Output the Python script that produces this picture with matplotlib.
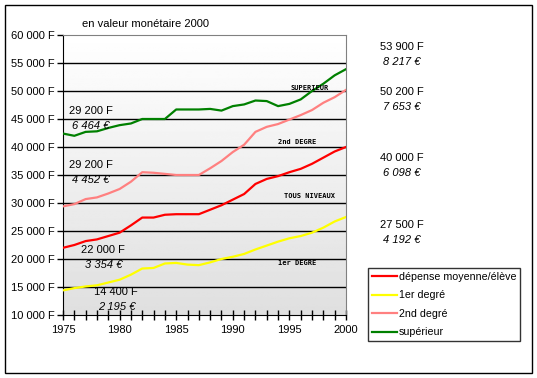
import numpy as np
import matplotlib
matplotlib.use('Agg')
import matplotlib.pyplot as plt
from matplotlib.patches import Rectangle

plt.rcParams['font.family'] = ['Liberation Sans', 'DejaVu Sans']

years = list(range(1975, 2001))
moyenne = [22000, 22500, 23200, 23500, 24100, 24700, 26000, 27400, 27400, 27900,
           28000, 28000, 28000, 28800, 29600, 30600, 31600, 33400, 34300, 34800,
           35500, 36100, 37000, 38100, 39200, 40000]
premier = [14400, 14800, 15100, 15300, 15800, 16300, 17200, 18300, 18400, 19200,
           19300, 19000, 18900, 19400, 20000, 20400, 20900, 21700, 22400, 23100,
           23700, 24100, 24700, 25600, 26700, 27500]
second = [29400, 29800, 30700, 31000, 31700, 32500, 33800, 35500, 35400, 35200,
          35000, 35000, 35000, 36200, 37500, 39100, 40400, 42700, 43600, 44100,
          44900, 45700, 46600, 47900, 48900, 50200]
superieur = [42400, 42000, 42700, 42800, 43400, 43900, 44200, 45000, 45000, 45000,
             46700, 46700, 46700, 46800, 46500, 47300, 47600, 48300, 48200, 47300,
             47700, 48500, 50000, 51300, 52800, 53900]

yticks = list(range(10000, 60001, 5000))
ytick_labels = ['%d 000 F' % (v // 1000) for v in yticks]
xticks = [1975, 1980, 1985, 1990, 1995, 2000]

# value labels in francs / euros
left_f = [(1975.5, 46500, '29 200 F'), (1975.5, 36700, '29 200 F'),
          (1976.6, 21600, '22 000 F'), (1977.7, 14100, '14 400 F')]
left_e = [(1975.8, 43800, '6 464 €'), (1975.8, 34100, '4 452 €'),
          (1976.9, 19000, '3 354 €'), (1978.1, 11400, '2 195 €')]
right_labels = [(57800, '53 900 F', '8 217 €'),
                (49800, '50 200 F', '7 653 €'),
                (38100, '40 000 F', '6 098 €'),
                (26100, '27 500 F', '4 192 €')]
level_labels = [(1996.8, 50500, 'SUPERIEUR'),
                (1995.7, 40900, '2nd DEGRE'),
                (1996.8, 31300, 'TOUS NIVEAUX'),
                (1995.7, 19350, '1er DEGRE')]

fig = plt.figure(figsize=(5.37, 3.78), dpi=100)
fig.patches.append(Rectangle((5 / 537, 5 / 378), 527 / 537, 368 / 378, transform=fig.transFigure,
                             fill=False, edgecolor='black', linewidth=1))
ax = fig.add_axes([63 / 537, 1 - 315 / 378, 283 / 537, 280 / 378])

# grey gradient background
grad = np.linspace(0.875, 1.0, 256).reshape(-1, 1)
ax.imshow(grad, extent=[1975, 2000, 10000, 60000], aspect='auto', cmap='gray',
          vmin=0, vmax=1, origin='lower', zorder=0)

for v in yticks[1:-1]:
    ax.axhline(v, color='black', linewidth=1, zorder=1)

ax.plot(years, moyenne, color='#ff0000', linewidth=1.6, label='dépense moyenne/élève', zorder=3)
ax.plot(years, premier, color='#ffff00', linewidth=1.6, label='1er degré', zorder=3)
ax.plot(years, second, color='#ff8080', linewidth=1.6, label='2nd degré', zorder=3)
ax.plot(years, superieur, color='#008000', linewidth=1.6, label='supérieur', zorder=3)

ax.set_xlim(1975, 2000)
ax.set_ylim(10000, 60000)
ax.set_yticks(yticks)
ax.set_yticklabels(ytick_labels, fontsize=8)
ax.set_xticks(xticks)
ax.set_xticklabels([str(x) for x in xticks], fontsize=8)
ax.set_xticks(years, minor=True)
ax.tick_params(axis='x', which='both', direction='inout', length=7, width=1, pad=4)
ax.tick_params(axis='y', direction='out', length=4, width=1, pad=2)
ax.spines['top'].set_color('#808080')
ax.spines['right'].set_color('#808080')

for x, y, t in left_f:
    ax.text(x, y, t, fontsize=8, va='center', zorder=4)
for x, y, t in left_e:
    ax.text(x, y, t, fontsize=8, style='italic', va='center', zorder=4)

for y, f, e in right_labels:
    ax.text(2004.9, y, f, fontsize=8, ha='center', va='center', clip_on=False)
    ax.text(2004.9, y - 2700, e, fontsize=8, style='italic', ha='center', va='center', clip_on=False)

for x, y, t in level_labels:
    ax.text(x, y, t, fontsize=5, fontweight='bold', ha='center', va='center', zorder=4,
            family='DejaVu Sans Mono')

fig.text(146 / 537, 1 - 24 / 378, 'en valeur monétaire 2000', fontsize=8, ha='center', va='center')

leg = ax.legend(loc='upper left', bbox_to_anchor=(368 / 537, 1 - 268 / 378),
                bbox_transform=fig.transFigure, fontsize=7.7, frameon=True, fancybox=False,
                handlelength=2.4, handletextpad=0.15, borderpad=0.35, labelspacing=0.8,
                borderaxespad=0)
leg.get_frame().set_edgecolor('black')
leg.get_frame().set_linewidth(1)

fig.savefig('out.png', dpi=100)
